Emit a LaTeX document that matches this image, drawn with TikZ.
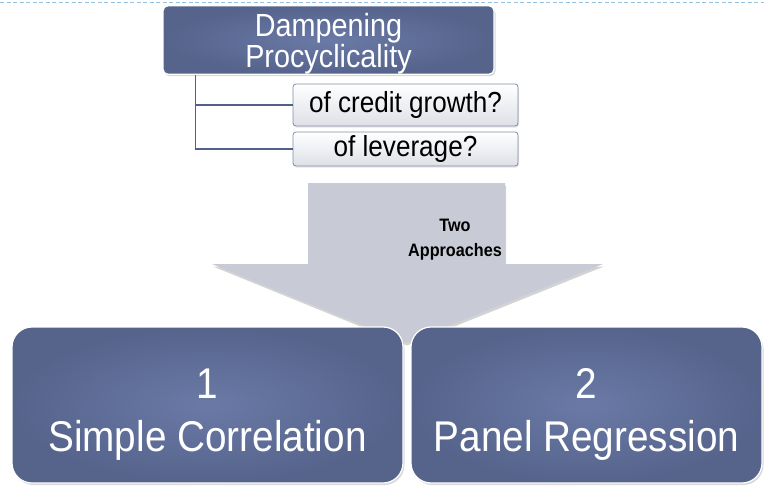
\documentclass[tikz,border=0pt]{standalone}
\usepackage{fontspec}
\setmainfont[FakeStretch=0.9]{Liberation Sans}
\usetikzlibrary{shadows}

\definecolor{slateblue}{RGB}{86,100,140}
\definecolor{slatelight}{RGB}{106,122,166}
\definecolor{paleblue}{RGB}{150,192,224}
\definecolor{arrowgray}{RGB}{200,203,213}
\definecolor{linkblue}{RGB}{82,97,140}
\definecolor{subedge}{RGB}{128,140,172}
\definecolor{subfill}{RGB}{222,224,231}

% pushes a two line label down inside its box
\newcommand{\lift}[1]{\rule{0pt}{#1}}

\begin{document}
\begin{tikzpicture}[x=1pt,y=-1pt]
  \tikzstyle{bigbox}=[draw=white, line width=1.2pt, inner color=slatelight, outer color=slateblue,
      text=white, align=center, inner sep=0pt,
      drop shadow={opacity=0.3, shadow xshift=1.5pt, shadow yshift=-2pt}]
  \tikzstyle{subbox}=[draw=subedge, line width=0.8pt, rounded corners=3pt, top color=white,
      bottom color=subfill, minimum width=225pt, inner sep=0pt,
      font=\fontsize{29}{30}\selectfont,
      drop shadow={opacity=0.2, shadow xshift=1pt, shadow yshift=-1.5pt}]
  \tikzstyle{approach}=[bigbox, rounded corners=20pt, minimum height=156pt,
      font=\fontsize{43}{53}\selectfont]
  \tikzstyle{link}=[draw=linkblue, line width=1.3pt]

  \useasboundingbox (0,0) rectangle (764,490);
  \draw [paleblue, line width=0.8pt, dash pattern=on 4pt off 2.5pt] (0,2) -- (764,2);

  % question and its two branches
  \path (328.5,40) node (damp) [bigbox, rounded corners=5pt, minimum width=331pt,
      minimum height=66pt, font=\fontsize{32}{29}\selectfont]
      {\lift{31pt}Dampening\\Procyclicality};
  \path (405.5,105) node (credit) [subbox, minimum height=42pt] {of credit growth?};
  \path (405.5,149) node (lev) [subbox, minimum height=34pt] {of leverage?};

  \draw [link] ([xshift=33pt]damp.south west) |- (credit.west);
  \draw [link] ([xshift=33pt]damp.south west) |- (lev.west);

  % the big arrow splitting into the two methods
  \fill [arrowgray, drop shadow={opacity=0.35, shadow xshift=1pt, shadow yshift=-2.5pt}]
      (308,183) -- (505,183) -- (505,264) -- (603,264) -- (406,343)
      -- (212,264) -- (308,264) -- cycle;
  \path (455,240) node (two) [font=\bfseries\fontsize{18}{25}\selectfont, align=center]
      {Two\\Approaches};

  \path (207.5,405) node (simple) [approach, minimum width=391pt]
      {\lift{48pt}1\\Simple Correlation};
  \path (586.5,405) node (panel) [approach, minimum width=351pt]
      {\lift{48pt}2\\Panel Regression};
\end{tikzpicture}
\end{document}
